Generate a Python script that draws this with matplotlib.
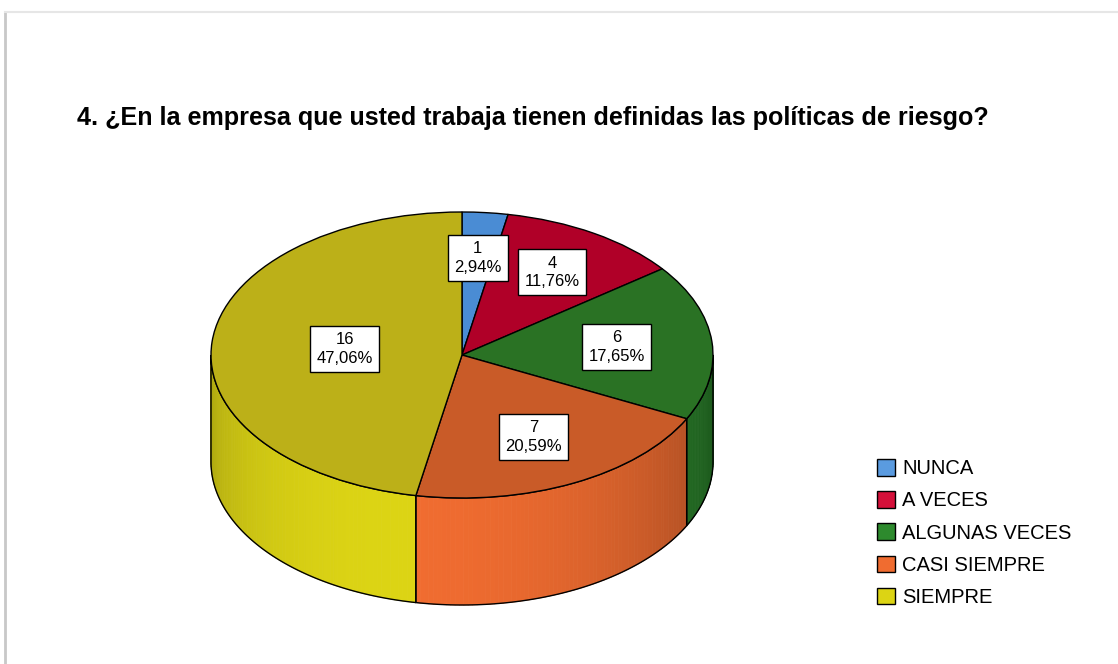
import matplotlib
matplotlib.use("Agg")
import matplotlib.pyplot as plt
import numpy as np
from matplotlib.transforms import Affine2D
from matplotlib.collections import PolyCollection
from matplotlib.patches import Patch, Polygon
from matplotlib.lines import Line2D

plt.rcParams['font.family'] = ['Liberation Sans', 'DejaVu Sans']

categories = ['NUNCA', 'A VECES', 'ALGUNAS VECES', 'CASI SIEMPRE', 'SIEMPRE']
counts = [1, 4, 6, 7, 16]
title = '4. ¿En la empresa que usted trabaja tienen definidas las políticas de riesgo?'

# base (side / legend) colours and darker top-face colours
base_colors = ['#5a9be0', '#d4103a', '#2d8a2d', '#f06c30', '#dcd414']
top_colors = ['#4a8cd4', '#b00028', '#2a7224', '#c95b28', '#bcb018']
# radial position of each value label (fraction of radius)
label_r = [0.68, 0.68, 0.62, 0.64, 0.47]

W, H = 1118, 664
fig = plt.figure(figsize=(W / 100, H / 100), dpi=100)
ax = fig.add_axes([0, 0, 1, 1])

# geometry in pixel units (y up)
cx, cy = 462, H - 355
rx, ry = 251, 143
depth = 107

total = sum(counts)
bounds = np.concatenate([[0], np.cumsum(counts)]) / total * 360.0

# side walls (only front half visible: 90..270 deg clockwise from top)
def pt(theta, dz=0.0):
    t = np.radians(theta)
    return (cx + rx * np.sin(t), cy + ry * np.cos(t) - dz)

for i in range(len(counts)):
    a, b = max(bounds[i], 90), min(bounds[i + 1], 270)
    if b <= a:
        continue
    thetas = np.linspace(a, b, max(2, int((b - a) / 1.0) + 1))
    quads, cols = [], []
    base = np.array(matplotlib.colors.to_rgb(base_colors[i]))
    for t1, t2 in zip(thetas[:-1], thetas[1:]):
        quads.append([pt(t1), pt(t2), pt(t2, depth), pt(t1, depth)])
        tm = 0.5 * (t1 + t2)
        f = 0.70 + 0.30 * np.cos(np.radians(tm - 195))
        cols.append(np.clip(base * f, 0, 1))
    pc = PolyCollection(quads, facecolors=cols, edgecolors=cols, linewidths=0.6, zorder=1)
    ax.add_collection(pc)
    outline = [pt(t) for t in thetas] + [pt(t, depth) for t in thetas[::-1]]
    ax.add_patch(Polygon(outline, closed=True, fill=False, edgecolor='black', lw=1, zorder=1.5))

# top face: pie squashed into an ellipse
wedges, _ = ax.pie(counts, colors=top_colors, startangle=90, counterclock=False,
                   center=(cx, cy), radius=rx,
                   wedgeprops=dict(edgecolor='black', linewidth=1))
squash = Affine2D().translate(-cx, -cy).scale(1, ry / rx).translate(cx, cy)
for w in wedges:
    w.set_transform(squash + ax.transData)
    w.set_zorder(2)

ax.set_aspect('auto')
ax.set_xlim(0, W)
ax.set_ylim(0, H)
ax.axis('off')

# value labels
for i, v in enumerate(counts):
    tm = np.radians(0.5 * (bounds[i] + bounds[i + 1]))
    x = cx + label_r[i] * rx * np.sin(tm)
    y = cy + label_r[i] * ry * np.cos(tm)
    pct = ('%.2f%%' % (v / total * 100)).replace('.', ',')
    ax.text(x, y, '%d\n%s' % (v, pct), ha='center', va='center', fontsize=12,
            multialignment='center', linespacing=1.3, zorder=5,
            bbox=dict(boxstyle='square,pad=0.38', fc='white', ec='black', lw=1))

# title fitted to reference width
t = fig.text(77 / W, 1 - 118 / H, title, fontsize=17, fontweight='bold', ha='left', va='center')
fig.canvas.draw()
bb = t.get_window_extent()
t.set_fontsize(17 * 916 / bb.width)

# legend
handles = [Patch(facecolor=c, edgecolor='black', lw=1) for c in base_colors]
fig.legend(handles, categories, loc='upper left', bbox_to_anchor=(877 / W, 1 - 459 / H),
           frameon=False, fontsize=14.5, handlelength=0.9, handleheight=0.9,
           handletextpad=0.35, labelspacing=0.64, borderpad=0, borderaxespad=0)

# screenshot frame lines
fig.add_artist(Line2D([5 / W, 5 / W], [0, 1 - 12 / H], color='#c8c8c8', lw=2, transform=fig.transFigure))
fig.add_artist(Line2D([5 / W, 1], [1 - 12 / H, 1 - 12 / H], color='#e6e6e6', lw=1.5, transform=fig.transFigure))

fig.savefig('out.png', dpi=100)
